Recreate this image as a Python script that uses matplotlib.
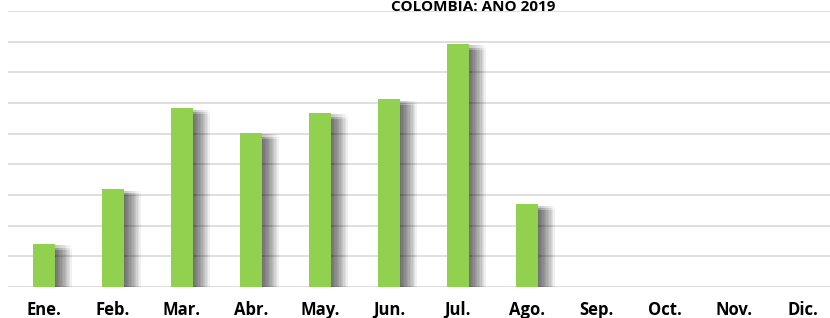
import numpy as np
import matplotlib.pyplot as plt
import matplotlib.patheffects as pe

meses = ['Ene.', 'Feb.', 'Mar.', 'Abr.', 'May.', 'Jun.', 'Jul.', 'Ago.',
         'Sep.', 'Oct.', 'Nov.', 'Dic.']
valores = [1.40, 3.19, 5.83, 5.02, 5.67, 6.12, 7.92, 2.70]
titulo = 'COLOMBIA: AÑO 2019'

plt.rcParams['font.family'] = ['Open Sans', 'DejaVu Sans']

fig = plt.figure(figsize=(8.3, 3.18), dpi=100)
ax = fig.add_axes([0.0096, 0.0975, 0.9904, 0.868])

# soft drop shadow built from many offset copies
sombra = []
for dx in np.arange(1.0, 12.5, 1.0):
    for dy in [-1.0, -2.5, -4.0]:
        sombra.append(pe.SimplePatchShadow(offset=(dx, dy), shadow_rgbFace='black',
                                           alpha=0.018, rho=0.0))
sombra.append(pe.Normal())

x = np.arange(len(valores))
barras = ax.bar(x, valores, width=0.32, color='#92d050', zorder=3)
for b in barras:
    b.set_path_effects(sombra)

ax.set_ylim(0, 9)
ax.set_yticks(np.arange(0, 10, 1))
ax.yaxis.grid(True, color='#d9d9d9', linewidth=1.2, zorder=0)
ax.set_axisbelow(True)
ax.set_xlim(-0.52, 11.39)
ax.set_xticks(np.arange(len(meses)))
ax.set_xticklabels(meses, fontsize=12, fontweight='bold')
ax.tick_params(axis='x', length=0, pad=10)
ax.tick_params(axis='y', length=0, labelleft=False)
for s in ax.spines.values():
    s.set_visible(False)

fig.text(0.57, 0.999, titulo, ha='center', va='top', fontsize=11,
         fontweight='bold')

fig.savefig('out.png', dpi=100)
